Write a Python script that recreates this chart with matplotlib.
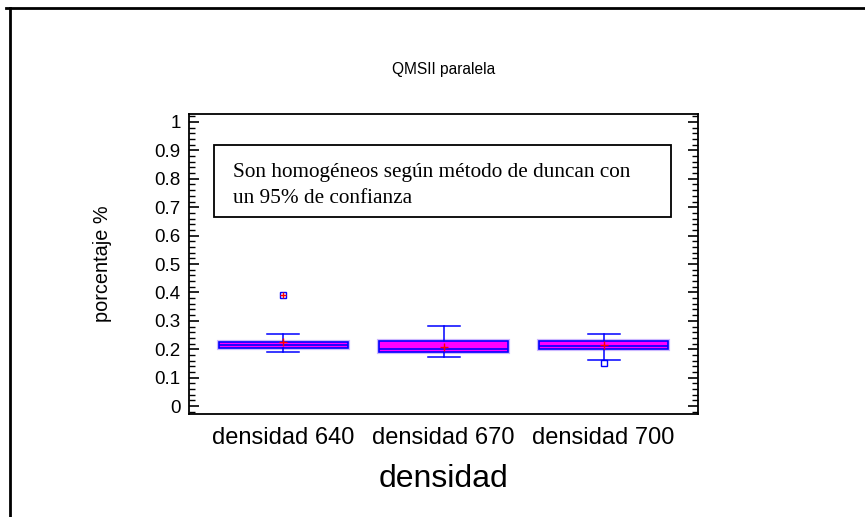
import matplotlib
matplotlib.use("Agg")
import matplotlib.pyplot as plt
from matplotlib.lines import Line2D
from matplotlib.patches import Rectangle
import matplotlib.patheffects as pe
from matplotlib.ticker import MultipleLocator, FuncFormatter

categories = ["densidad 640", "densidad 670", "densidad 700"]
q1 = [0.203, 0.189, 0.201]
med = [0.215, 0.202, 0.210]
q3 = [0.226, 0.229, 0.230]
whislo = [0.190, 0.171, 0.163]
whishi = [0.252, 0.281, 0.252]
means = [0.224, 0.209, 0.215]
outliers = [[0.391], [], [0.150]]
far_outliers = [[0.391], [], []]

title = "QMSII paralela"
ylabel = "porcentaje %"
xlabel = "densidad"
note = "Son homogéneos según método de duncan con\nun 95% de confianza"

plt.rcParams['font.family'] = ['Liberation Sans', 'DejaVu Sans']

fig = plt.figure(figsize=(8.65, 5.17), dpi=100)
ax = fig.add_axes([0.2185, 0.1992, 0.5885, 0.5803])

positions = [1, 2, 3]
stats = []
for i in range(3):
    stats.append(dict(med=med[i], q1=q1[i], q3=q3[i], whislo=whislo[i],
                      whishi=whishi[i], fliers=outliers[i], mean=means[i],
                      label=categories[i]))

halo = [pe.Stroke(linewidth=3.0, foreground='#9a70ff', alpha=0.5), pe.Normal()]
bp = ax.bxp(stats, positions=positions, widths=0.81, patch_artist=True,
            showmeans=True, showfliers=True,
            boxprops=dict(facecolor='#ff00ff', edgecolor='#0000ff', linewidth=1.2),
            medianprops=dict(color='#0000ff', linewidth=1.2),
            whiskerprops=dict(color='#0000ff', linewidth=1.1),
            capprops=dict(color='#0000ff', linewidth=1.1),
            capwidths=0.2,
            meanprops=dict(marker='+', markeredgecolor='#ff0000', markersize=6, markeredgewidth=1.0),
            flierprops=dict(marker='s', markerfacecolor='none', markeredgecolor='#0000ff',
                            markersize=5, markeredgewidth=1.0))
for b in bp['boxes']:
    b.set_path_effects(halo)
for i, fo in enumerate(far_outliers):
    if fo:
        ax.plot([positions[i]] * len(fo), fo, linestyle='none', marker='+',
                markeredgecolor='#ff0000', markersize=5, markeredgewidth=1.0)

ax.set_xlim(0.41, 3.59)
ax.set_ylim(-0.028, 1.028)
ax.yaxis.set_major_locator(MultipleLocator(0.1))
ax.yaxis.set_minor_locator(MultipleLocator(0.02))
ax.yaxis.set_major_formatter(FuncFormatter(lambda v, p: "%g" % round(v, 2)))
ax.tick_params(axis='y', which='major', direction='in', length=7, width=1.2,
               left=True, right=True, labelsize=13.5, pad=6, colors='black')
ax.tick_params(axis='y', which='minor', direction='in', length=4, width=1.0,
               left=True, right=True)
ax.set_xticks(positions)
ax.set_xticklabels(categories)
ax.tick_params(axis='x', which='both', length=0, labelsize=17, pad=9)
for s in ax.spines.values():
    s.set_linewidth(1.3)

ax.set_ylabel(ylabel, fontsize=14.3)
ax.yaxis.set_label_coords(-0.151, 0.5)
ax.set_xlabel(xlabel, fontsize=23)
ax.xaxis.set_label_coords(0.5, -0.165)

fig.text(0.5127, 0.865, title, ha='center', va='center', fontsize=11.2)

ax.add_patch(Rectangle((0.049, 0.657), 0.898, 0.240, transform=ax.transAxes,
                       facecolor='white', edgecolor='black', linewidth=1.3, zorder=5))
ax.text(0.0865, 0.762, note, transform=ax.transAxes, ha='left', va='center',
        fontsize=15.3, family=['Liberation Serif', 'DejaVu Serif'], zorder=6,
        linespacing=1.55)

fig.add_artist(Line2D([0.0116, 0.0116], [0.0, 0.985], transform=fig.transFigure,
                      color='black', linewidth=2))
fig.add_artist(Line2D([0.0069, 1.0], [0.985, 0.985], transform=fig.transFigure,
                      color='black', linewidth=2))

fig.savefig("out.png", dpi=100)
